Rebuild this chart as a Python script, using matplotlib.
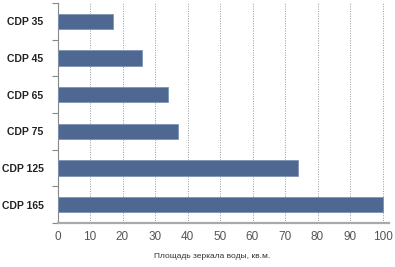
import matplotlib
matplotlib.use("Agg")
import matplotlib.pyplot as plt
import numpy as np

categories = ["CDP 35", "CDP 45", "CDP 65", "CDP 75", "CDP 125", "CDP 165"]
values = [17, 26, 34, 37, 74, 100]
xticks = [0, 10, 20, 30, 40, 50, 60, 70, 80, 90, 100]
xlabel = "Площадь зеркала воды, кв.м."

plt.rcParams['font.family'] = ['Liberation Sans', 'DejaVu Sans']

fig = plt.figure(figsize=(3.95, 2.67), dpi=100)
ax = fig.add_axes([57.5/395, 1-223/267, 331.5/395, 220/267])

y = np.arange(len(categories))
ax.barh(y, values, height=0.42, color="#4F6891", edgecolor="#7F93B5", linewidth=0.6, zorder=3)
ax.set_ylim(len(categories)-0.5, -0.5)
ax.set_xlim(0, 102)
ax.set_yticks(y)
ax.set_yticklabels(categories, fontweight="bold", fontsize=7.5, color="#222222")
ax.set_yticks(np.arange(-0.5, len(categories), 1.0), minor=True)
ax.tick_params(axis="y", which="major", length=0, pad=10)
ax.tick_params(axis="y", which="minor", length=4, color="#888888", width=0.8)
ax.set_xticks(xticks)
ax.set_xticklabels([str(v) for v in xticks], fontsize=8.5, color="#555555")
ax.tick_params(axis="x", length=0, pad=6)
for v in xticks:
    ax.axvline(v, color="#999999", linestyle=(0, (1, 1.5)), linewidth=0.7, zorder=1)
for s in ["top", "right"]:
    ax.spines[s].set_visible(False)
ax.spines["left"].set_color("#888888")
ax.spines["left"].set_linewidth(0.8)
ax.spines["bottom"].set_color("#AAAAAA")
ax.spines["bottom"].set_linewidth(1.6)
ax.set_xlabel(xlabel, fontsize=6.0, color="#333333")
ax.xaxis.set_label_coords((212-57.5)/331.5, -0.135)

fig.savefig("out.png", dpi=100)
